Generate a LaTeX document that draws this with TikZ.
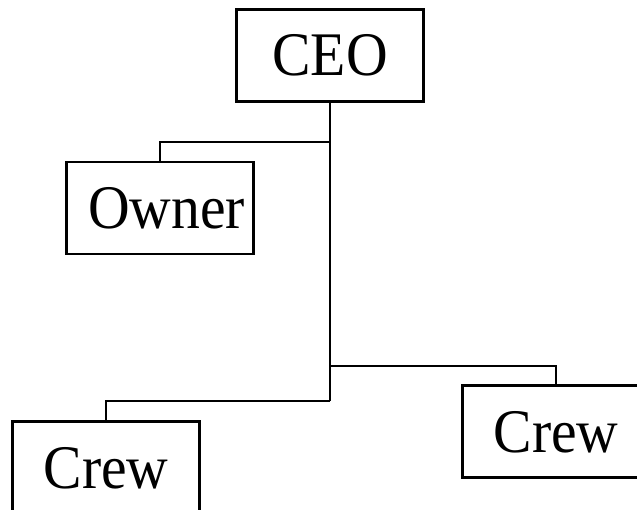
\documentclass[tikz,border=0pt]{standalone}
\usepackage{fontspec}
\setmainfont[FakeStretch=0.93]{Liberation Serif}
\begin{document}
\begin{tikzpicture}[x=1pt,y=-1pt,
  orgbox/.style={draw=black,line width=2.2pt,rectangle,minimum width=187pt,minimum height=92pt,inner sep=0pt,
    font=\fontsize{62}{64}\selectfont,text height=41pt,text depth=0pt},
  link/.style={draw=black,line width=2.2pt}]
\useasboundingbox (0,0) rectangle (637,510);
\node[orgbox] (ceo) at (330,55.5) {CEO};
\node[orgbox] (owner) at (160,208) {\hspace*{13pt}Owner};
\node[orgbox] (crewL) at (106,467.5) {Crew};
\node[orgbox] (crewR) at (556,431.5) {Crew};
\coordinate (j1) at (330,142);
\coordinate (j2) at (330,366);
\coordinate (j3) at (330,401);
\draw[link] (ceo.south) -- (j3);
\draw[link] (j1) -| (owner.north);
\draw[link] (j2) -| (crewR.north);
\draw[link] (j3) -| (crewL.north);
\end{tikzpicture}
\end{document}
